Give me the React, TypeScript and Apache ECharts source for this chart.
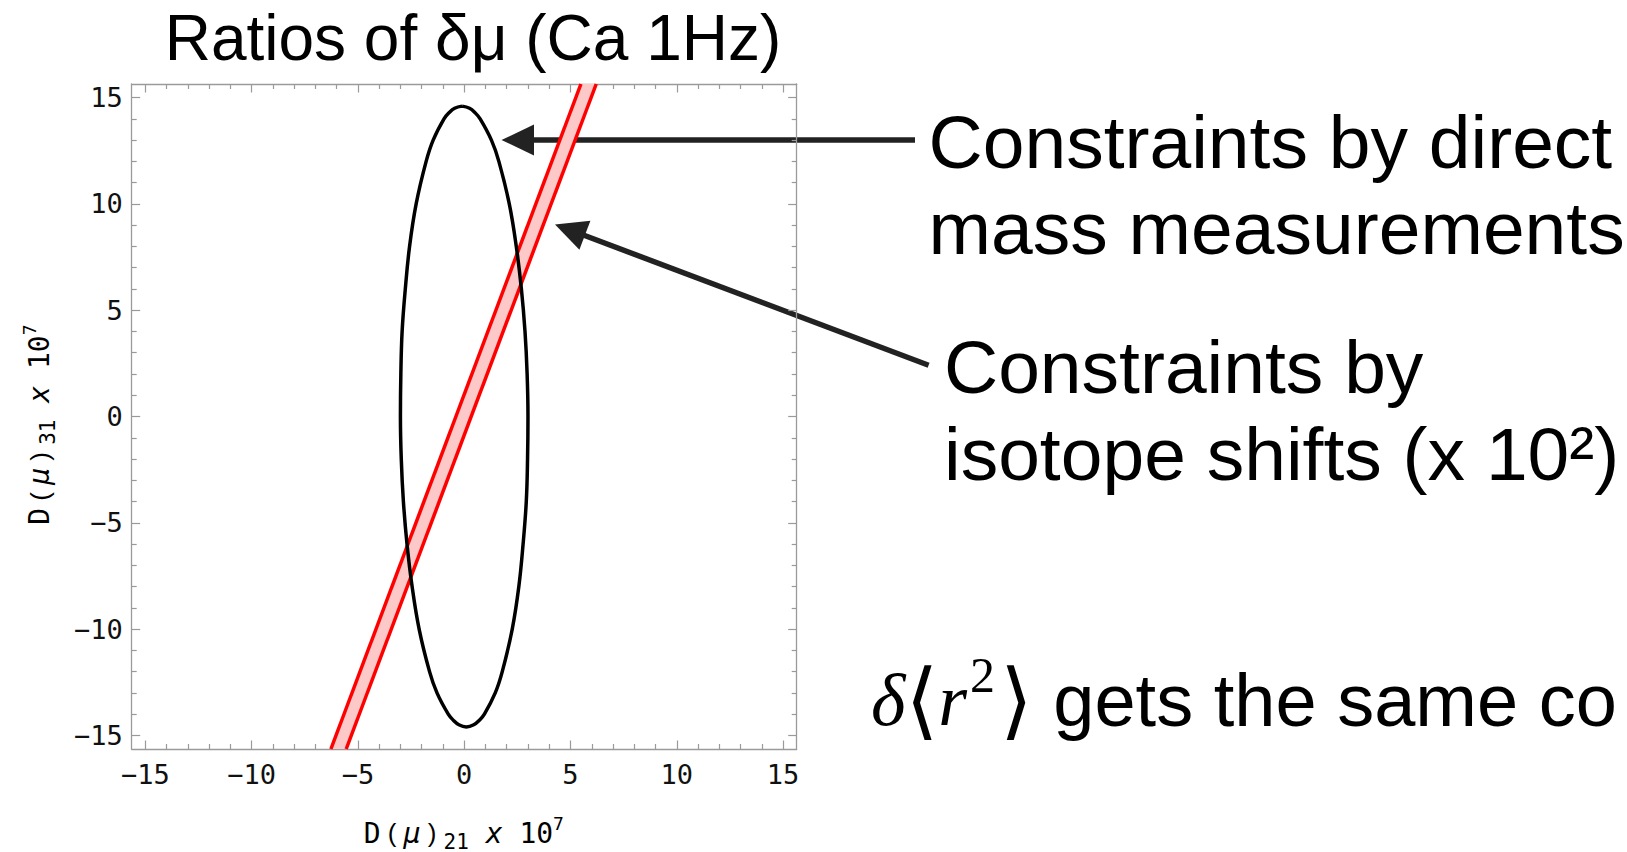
import React, { useEffect, useRef } from "react";
import * as echarts from "echarts";

// ---- data ----
const axisMin = -15.64;
const axisMax = 15.64;
const tickValues = [-15, -10, -5, 0, 5, 10, 15];

// ellipse outline (constraints by direct mass measurements), [D21, D31]
const ellipsePoints: [number, number][] = [
  [-0.1, 14.6], [0.25, 14.5], [0.5, 14.3], [0.75, 14.0], [1.28, 13.0], [1.63, 12.0],
  [2.12, 10.0], [2.45, 8.0], [2.69, 6.0], [2.86, 4.0], [2.96, 2.0], [3.0, 0.0],
  [2.98, -2.0], [2.92, -4.0], [2.77, -6.0], [2.57, -8.0], [2.26, -10.0], [1.79, -12.0],
  [1.46, -13.0], [0.95, -14.0], [0.7, -14.3], [0.45, -14.5], [0.1, -14.6],
  [-0.25, -14.5], [-0.5, -14.3], [-0.75, -14.0], [-1.28, -13.0], [-1.63, -12.0],
  [-2.12, -10.0], [-2.45, -8.0], [-2.69, -6.0], [-2.86, -4.0], [-2.96, -2.0], [-3.0, 0.0],
  [-2.98, 2.0], [-2.92, 4.0], [-2.77, 6.0], [-2.57, 8.0], [-2.26, 10.0], [-1.79, 12.0],
  [-1.46, 13.0], [-0.95, 14.0], [-0.7, 14.3], [-0.45, 14.5], [-0.1, 14.6],
];

// isotope-shift band edges
const bandLeftEdge: [number, number][] = [[-6.27, -15.64], [5.49, 15.64]];
const bandRightEdge: [number, number][] = [[-5.55, -15.64], [6.21, 15.64]];

const titleText = "Ratios of δμ (Ca 1Hz)";
const note1Lines = ["Constraints by direct", "mass measurements"];
const note2Lines = ["Constraints by", "isotope shifts (x 10²)"];
const footText = "gets the same co";

const fmt = (v: number) => (v < 0 ? "\u2212" + Math.abs(v) : String(v));

const frameColor = "#9a9a9a";
const monoFont = "'DejaVu Sans Mono', monospace";
const sansFont = "'Liberation Sans', Arial, sans-serif";

function makeAxis(position: string, showLabels: boolean, isX: boolean) {
  return {
    type: "value",
    min: axisMin,
    max: axisMax,
    position,
    splitNumber: 5,
    axisLine: { show: true, onZero: false, lineStyle: { color: frameColor, width: 1.3 } },
    axisTick: {
      show: true,
      inside: true,
      length: 8.5,
      customValues: tickValues,
      lineStyle: { color: frameColor, width: 1.2 },
    },
    minorTick: { show: true, splitNumber: 5, length: 5, lineStyle: { color: frameColor, width: 1.2 } },
    splitLine: { show: false },
    minorSplitLine: { show: false },
    axisLabel: {
      show: showLabels,
      customValues: tickValues,
      formatter: fmt,
      fontFamily: monoFont,
      fontSize: 27,
      color: "#111",
      margin: isX ? 12 : 9,
    },
  };
}

export default function App() {
  const ref = useRef<HTMLDivElement>(null);

  useEffect(() => {
    if (!ref.current) return;
    const chart = echarts.init(ref.current, undefined, { renderer: "svg" });

    const axisNameRich = {
      a: { fontFamily: monoFont, fontSize: 28, lineHeight: 38, color: "#111" },
      p: { fontFamily: sansFont, fontSize: 26, lineHeight: 38, color: "#555" },
      i: { fontFamily: monoFont, fontStyle: "italic", fontSize: 28, lineHeight: 38, color: "#111" },
      s: { fontFamily: monoFont, fontSize: 21, lineHeight: 21, verticalAlign: "bottom", color: "#111" },
      u: { fontFamily: monoFont, fontSize: 18, lineHeight: 18, verticalAlign: "top", color: "#111" },
    };
    const axisName = (sub: string) =>
      `{a|D}{p| ( }{i|μ}{p| ) }{s|${sub}}{i| x }{a|10}{u|7}`;

    const arrowColor = "#222";
    const arrow2Tail = [928.6, 365.2];
    const arrow2Tip = [555, 224.5];

    chart.setOption({
      animation: false,
      backgroundColor: "#fff",
      grid: { left: 131.7, top: 84, width: 665, height: 665, containLabel: false },
      xAxis: [makeAxis("bottom", true, true), makeAxis("top", false, true)],
      yAxis: [makeAxis("left", true, false), makeAxis("right", false, false)],
      series: [
        {
          type: "custom",
          silent: true,
          clip: true,
          z: 1,
          data: [[0, 0]],
          renderItem: (_params: any, api: any) => {
            const pts = [bandLeftEdge[0], bandLeftEdge[1], bandRightEdge[1], bandRightEdge[0]].map((p) =>
              api.coord(p)
            );
            return { type: "polygon", shape: { points: pts }, style: { fill: "#fcc8c8" } };
          },
        },
        {
          type: "line",
          data: bandLeftEdge,
          showSymbol: false,
          silent: true,
          z: 2,
          lineStyle: { color: "#ff0000", width: 3.5 },
        },
        {
          type: "line",
          data: bandRightEdge,
          showSymbol: false,
          silent: true,
          z: 2,
          lineStyle: { color: "#ff0000", width: 3.5 },
        },
        {
          type: "line",
          data: ellipsePoints,
          smooth: 0.4,
          showSymbol: false,
          silent: true,
          z: 3,
          lineStyle: { color: "#000", width: 3.5 },
        },
      ],
      graphic: [
        {
          type: "text",
          x: 473,
          y: 38,
          style: { text: titleText, fontFamily: sansFont, fontSize: 64, fill: "#000", align: "center", verticalAlign: "middle" },
        },
        {
          type: "text",
          x: 463.8,
          y: 833,
          style: { text: axisName("21"), rich: axisNameRich, align: "center", verticalAlign: "middle" },
        },
        {
          type: "text",
          x: 39.5,
          y: 424.6,
          rotation: Math.PI / 2,
          style: { text: axisName("31"), rich: axisNameRich, align: "center", verticalAlign: "middle" },
        },
        // arrow 1
        {
          type: "line",
          shape: { x1: 915, y1: 140, x2: 530, y2: 140 },
          style: { stroke: arrowColor, lineWidth: 5.5 },
        },
        {
          type: "polygon",
          shape: { points: [[501.5, 140], [534, 124.5], [534, 155.5]] },
          style: { fill: arrowColor },
        },
        // arrow 2
        {
          type: "line",
          shape: { x1: arrow2Tail[0], y1: arrow2Tail[1], x2: 582, y2: 234.5 },
          style: { stroke: arrowColor, lineWidth: 5.5 },
        },
        {
          type: "polygon",
          shape: { points: [arrow2Tip, [590.4, 220.8], [579.4, 249.8]] },
          style: { fill: arrowColor },
        },
        // annotations
        {
          type: "text",
          x: 928.6,
          y: 142,
          style: { text: note1Lines[0], fontFamily: sansFont, fontSize: 75, fill: "#000", align: "left", verticalAlign: "middle" },
        },
        {
          type: "text",
          x: 928.6,
          y: 228,
          style: { text: note1Lines[1], fontFamily: sansFont, fontSize: 75, fill: "#000", align: "left", verticalAlign: "middle" },
        },
        {
          type: "text",
          x: 944,
          y: 367,
          style: { text: note2Lines[0], fontFamily: sansFont, fontSize: 75, fill: "#000", align: "left", verticalAlign: "middle" },
        },
        {
          type: "text",
          x: 944,
          y: 454,
          style: { text: note2Lines[1], fontFamily: sansFont, fontSize: 75, fill: "#000", align: "left", verticalAlign: "middle" },
        },
        {
          type: "text",
          x: 871,
          y: 700,
          style: {
            text: `{it|δ}{br|⟨}{it|r}{s|2}{br|⟩}{t| ${footText}}`,
            align: "left",
            verticalAlign: "middle",
            rich: {
              it: { fontFamily: "'Liberation Serif', serif", fontStyle: "italic", fontSize: 74, lineHeight: 100, fill: "#000" },
              br: { fontFamily: "'DejaVu Sans', sans-serif", fontSize: 84, lineHeight: 100, fill: "#000" },
              s: { fontFamily: "'Liberation Serif', serif", fontSize: 50, lineHeight: 56, verticalAlign: "top", fill: "#000", padding: [0, 5, 0, 3] },
              t: { fontFamily: sansFont, fontSize: 74, lineHeight: 100, fill: "#000" },
            },
          },
        },
      ],
    });

    return () => chart.dispose();
  }, []);

  return (
    <div
      ref={ref}
      style={{ position: "fixed", left: 0, top: 0, width: "1627px", height: "852px", background: "#fff" }}
    />
  );
}
